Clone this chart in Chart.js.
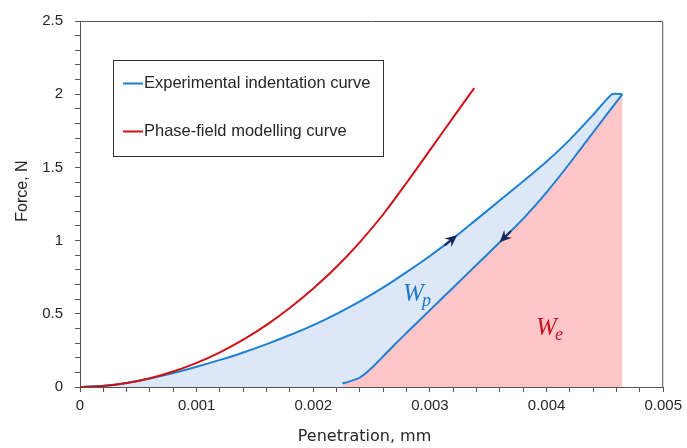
<!DOCTYPE html>
<html>
<head>
<meta charset="utf-8">
<script src="https://cdn.jsdelivr.net/npm/chart.js@4.4.1/dist/chart.umd.min.js"></script>
<style>
  html, body { margin: 0; padding: 0; background: #fff; }
  #wrap { width: 687px; height: 448px; position: relative; }
</style>
</head>
<body>
<div id="wrap"><canvas id="chart"></canvas></div>
<script>
// --- DATA ---
// experimental loading branch
const loadX = [0, 0.0002, 0.0004, 0.0006, 0.0008, 0.001, 0.0012, 0.0014, 0.0016, 0.0018, 0.002, 0.0022,
               0.0024, 0.0026, 0.0028, 0.003, 0.0032, 0.0034, 0.0036, 0.0038, 0.004, 0.0042, 0.0044, 0.00456, 0.00465];
const loadY = [0, 0.008, 0.028, 0.058, 0.096, 0.138, 0.185, 0.236, 0.293, 0.355, 0.423, 0.5,
               0.585, 0.68, 0.785, 0.895, 1.015, 1.145, 1.275, 1.405, 1.54, 1.69, 1.86, 2.0, 2.0];
// experimental unloading branch
const unloadX = [0.00225, 0.0023, 0.0024, 0.0025, 0.0026, 0.0027, 0.0028, 0.003, 0.0032, 0.0034,
                 0.0036, 0.0038, 0.004, 0.0042, 0.0044, 0.00465];
const unloadY = [0.025, 0.035, 0.065, 0.13, 0.21, 0.292, 0.37, 0.525, 0.68, 0.835,
                 0.99, 1.15, 1.33, 1.53, 1.74, 2.0];
// phase-field model
const modelX = [0, 0.0002, 0.0004, 0.0006, 0.0008, 0.001, 0.0012, 0.0014, 0.0016, 0.0018, 0.002,
                0.0022, 0.0024, 0.0026, 0.0028, 0.003, 0.0032, 0.00338];
const modelY = [0, 0.007, 0.027, 0.06, 0.106, 0.165, 0.237, 0.323, 0.424, 0.541, 0.673,
                0.821, 0.99, 1.18, 1.395, 1.618, 1.842, 2.042];

const xMajorTicks = [0, 0.001, 0.002, 0.003, 0.004, 0.005];
const xTickLabels = ['0', '0.001', '0.002', '0.003', '0.004', '0.005'];
const yMajorTicks = [0, 0.5, 1, 1.5, 2, 2.5];
const yTickLabels = ['0', '0.5', '1', '1.5', '2', '2.5'];

const legendLabels = ['Experimental indentation curve', 'Phase-field modelling curve'];
const xTitle = 'Penetration, mm';
const yTitle = 'Force, N';

const BLUE = '#1f7fd2';
const RED = '#cc1216';
const AXIS = '#555555';
const TXT = '#262626';

const toPoints = (xs, ys) => xs.map((x, i) => ({ x: x, y: ys[i] }));

function labelFor(v, majors, labels) {
    const i = majors.findIndex(m => Math.abs(m - v) < 1e-9);
    return i >= 0 ? labels[i] : '';
}

// y of a series at x (linear between read points)
function valueAt(xs, ys, x) {
    for (let i = 0; i < xs.length - 1; i++) {
        if (x >= xs[i] && x <= xs[i + 1]) {
            const t = (x - xs[i]) / (xs[i + 1] - xs[i]);
            return ys[i] + t * (ys[i + 1] - ys[i]);
        }
    }
    return ys[ys.length - 1];
}

// --- plugin: frame, titles, legend box, arrows and W labels ---
const decorPlugin = {
    id: 'decor',
    afterDatasetsDraw(chart) {
        const ctx = chart.ctx;
        const a = chart.chartArea;
        const xs = chart.scales.x, ys = chart.scales.y;

        // top / right frame
        ctx.save();
        ctx.strokeStyle = AXIS;
        ctx.lineWidth = 1;
        ctx.beginPath();
        ctx.moveTo(a.left, a.top + 0.5);
        ctx.lineTo(a.right - 0.5, a.top + 0.5);
        ctx.lineTo(a.right - 0.5, a.bottom);
        ctx.stroke();
        ctx.restore();

        // axis titles
        ctx.save();
        ctx.fillStyle = TXT;
        ctx.textAlign = 'center';
        ctx.textBaseline = 'middle';
        ctx.font = '16px "DejaVu Sans", sans-serif';
        ctx.fillText(xTitle, 364.5, 436.5);
        ctx.font = '16px "Liberation Sans", Arial, sans-serif';
        ctx.translate(23, 191);
        ctx.rotate(-Math.PI / 2);
        ctx.fillText(yTitle, 0, 0);
        ctx.restore();

        // arrows along the experimental curve
        const arrows = [
            { xs: loadX, ys: loadY, at: 0.00322, forward: true },
            { xs: unloadX, ys: unloadY, at: 0.00361, forward: false }
        ];
        arrows.forEach(ar => {
            const px = xs.getPixelForValue(ar.at);
            const py = ys.getPixelForValue(valueAt(ar.xs, ar.ys, ar.at));
            const px2 = xs.getPixelForValue(ar.at + 0.00005);
            const py2 = ys.getPixelForValue(valueAt(ar.xs, ar.ys, ar.at + 0.00005));
            let ang = Math.atan2(py2 - py, px2 - px);
            if (!ar.forward) ang += Math.PI;
            ctx.save();
            ctx.translate(px, py);
            ctx.rotate(ang);
            ctx.fillStyle = '#16285c';
            ctx.beginPath();
            ctx.moveTo(2, 0);
            ctx.lineTo(-10, -5.5);
            ctx.lineTo(-6, 0);
            ctx.lineTo(-10, 5.5);
            ctx.closePath();
            ctx.fill();
            ctx.lineWidth = 2;
            ctx.strokeStyle = '#16285c';
            ctx.beginPath();
            ctx.moveTo(-14, 0);
            ctx.lineTo(-4, 0);
            ctx.stroke();
            ctx.restore();
        });

        // W_p and W_e
        const drawW = (sub, x, y, color) => {
            const px = xs.getPixelForValue(x);
            const py = ys.getPixelForValue(y);
            ctx.save();
            ctx.fillStyle = color;
            ctx.textBaseline = 'alphabetic';
            ctx.font = 'italic 25px "Liberation Serif", serif';
            ctx.fillText('W', px, py);
            const w = ctx.measureText('W').width;
            ctx.font = 'italic 18px "Liberation Serif", serif';
            ctx.fillText(sub, px + w - 2, py + 5);
            ctx.restore();
        };
        drawW('p', 0.00277, 0.59, '#2378c8');
        drawW('e', 0.00391, 0.355, '#c8141e');

        // legend box
        const bx = 113.5, by = 60.5, bw = 270, bh = 96;
        ctx.save();
        ctx.fillStyle = '#fff';
        ctx.fillRect(bx, by, bw, bh);
        ctx.strokeStyle = '#333';
        ctx.lineWidth = 1;
        ctx.strokeRect(bx, by, bw, bh);
        ctx.font = '16.5px "Liberation Sans", Arial, sans-serif';
        ctx.textBaseline = 'middle';
        ctx.fillStyle = TXT;
        const cols = [BLUE, RED];
        legendLabels.forEach((lab, i) => {
            const ly = 83.5 + i * 48;
            ctx.strokeStyle = cols[i];
            ctx.lineWidth = 2;
            ctx.beginPath();
            ctx.moveTo(123, ly);
            ctx.lineTo(143, ly);
            ctx.stroke();
            ctx.fillText(lab, 144, ly);
        });
        ctx.restore();
    }
};

const tickFont = { family: '"Liberation Sans", Arial, sans-serif', size: 15 };

new Chart(document.getElementById('chart'), {
    type: 'line',
    data: {
        datasets: [
            {
                label: 'unloading',
                data: toPoints(unloadX, unloadY),
                borderColor: BLUE,
                borderWidth: 2,
                backgroundColor: '#ffc6ca',
                fill: 'origin',
                pointRadius: 0,
                tension: 0.2
            },
            {
                label: legendLabels[0],
                data: toPoints(loadX, loadY),
                borderColor: BLUE,
                borderWidth: 2,
                backgroundColor: '#dce8f5',
                fill: 'origin',
                pointRadius: 0,
                tension: 0.2
            },
            {
                label: legendLabels[1],
                data: toPoints(modelX, modelY),
                borderColor: RED,
                borderWidth: 2,
                fill: false,
                pointRadius: 0,
                tension: 0.3,
                order: -1
            }
        ]
    },
    options: {
        responsive: true,
        maintainAspectRatio: false,
        animation: false,
        layout: { padding: { top: 19, right: 22, left: 0, bottom: 0 } },
        plugins: {
            legend: { display: false },
            tooltip: { enabled: false }
        },
        scales: {
            x: {
                type: 'linear',
                min: 0,
                max: 0.005,
                afterFit: s => { s.height = 61; },
                border: { color: AXIS, width: 1 },
                grid: { drawOnChartArea: false, drawTicks: true, tickLength: 5, color: AXIS },
                ticks: {
                    stepSize: 0.0002,
                    autoSkip: false,
                    maxRotation: 0,
                    padding: 5,
                    color: TXT,
                    font: tickFont,
                    callback: v => labelFor(v, xMajorTicks, xTickLabels)
                }
            },
            y: {
                min: 0,
                max: 2.5,
                afterFit: s => { s.width = 80; },
                border: { color: AXIS, width: 1 },
                grid: { drawOnChartArea: false, drawTicks: true, tickLength: 5, color: AXIS },
                ticks: {
                    stepSize: 0.1,
                    autoSkip: false,
                    padding: 12,
                    color: TXT,
                    font: tickFont,
                    callback: v => labelFor(v, yMajorTicks, yTickLabels)
                }
            }
        }
    },
    plugins: [decorPlugin]
});
</script>
</body>
</html>
